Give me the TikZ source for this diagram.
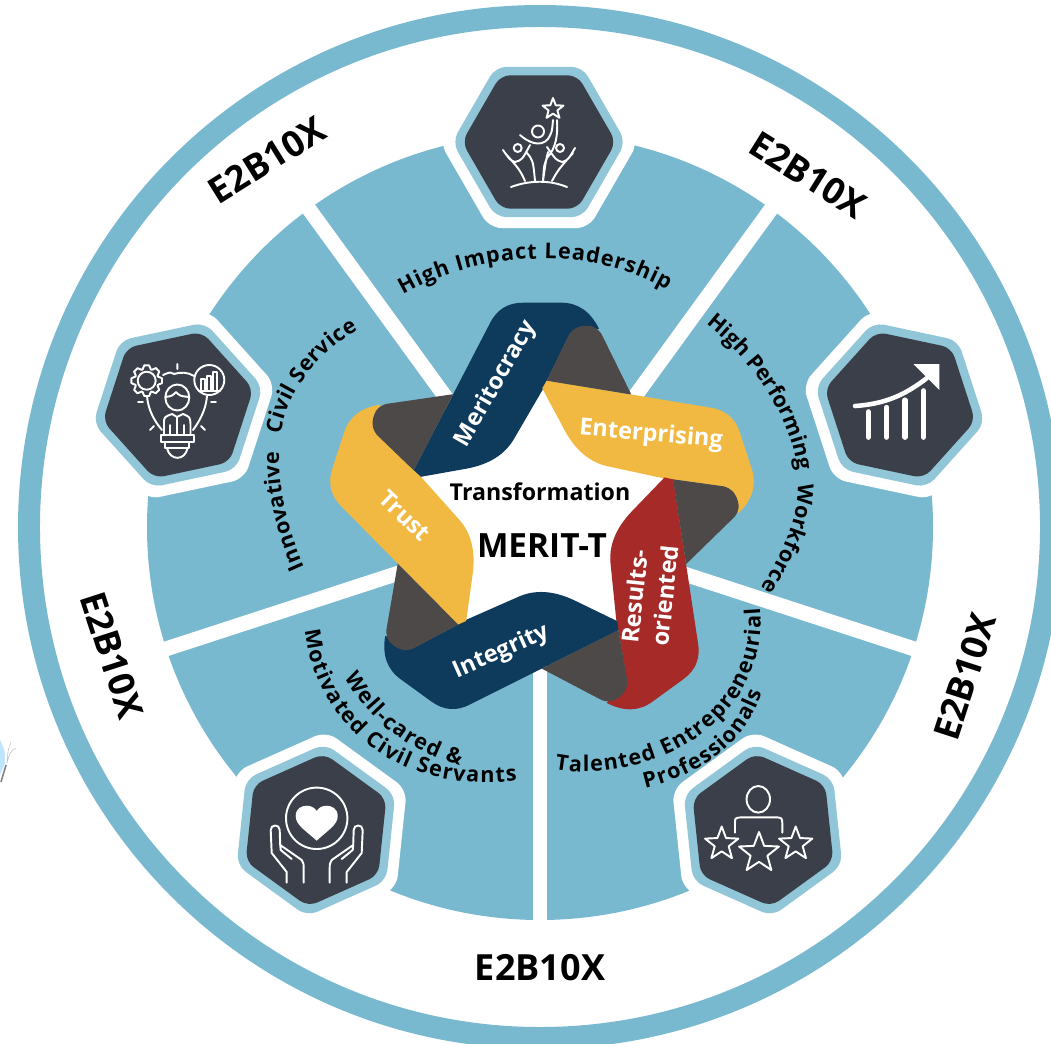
\documentclass[tikz,border=0pt]{standalone}
\usepackage{fontspec}
\setmainfont{Open Sans}
\usetikzlibrary{decorations.text}
\definecolor{ringblue}{HTML}{79B9CF}
\definecolor{hexlight}{HTML}{90C6D8}
\definecolor{hexdark}{HTML}{3A3F4A}
\definecolor{ribbonnavy}{HTML}{0E3A5C}
\definecolor{ribbongold}{HTML}{F1B941}
\definecolor{ribbonred}{HTML}{A52A28}
\definecolor{ribbongray}{HTML}{4D4948}
\tikzset{
   iconline/.style={draw=white,line width=1.1pt,line cap=round,line join=round},
   bartick/.style={draw=white,line width=2.9pt,line cap=round},
   divider/.style={draw=white,line width=8.5pt},
   ringlabel/.style={font=\bfseries\fontsize{20.5}{21}\selectfont},
   ribbonlabel/.style={text=white,font=\bfseries\fontsize{13.4}{17}\selectfont},
   curvetext/.style={decorate,decoration={text along path,text align=fit to path,
      text={|\bfseries\fontsize{12.3}{13}\selectfont|#1}}}
}
\newcommand{\hexa}[5]{\path[fill=#5,rounded corners=#4pt,shift={(#1,#2)},rotate=#3]
   (0:#4*14) -- (60:#4*14) -- (120:#4*14) -- (180:#4*14) -- (240:#4*14) -- (300:#4*14) -- cycle;}
\newcommand{\hexstack}[3]{\hexa{#1}{#2}{#3}{7.1}{white}\hexa{#1}{#2}{#3}{6.2}{hexlight}\hexa{#1}{#2}{#3}{5.5}{hexdark}}
\newcommand{\iconstar}[3]{\draw[iconline,shift={(#1,#2)}]
   (-90:#3) -- (-54:#3*.42) -- (-18:#3) -- (18:#3*.42) -- (54:#3) -- (90:#3*.42)
   -- (126:#3) -- (162:#3*.42) -- (198:#3) -- (234:#3*.42) -- cycle;}
\begin{document}
\begin{tikzpicture}[x=0.02cm,y=-0.02cm]
   \useasboundingbox (0,0) rectangle (1051,1044);
   \clip (0,0) rectangle (1051,1044);
   \fill[white] (0,0) rectangle (1051,1044);
   \draw[ringblue,line width=12.5pt] (540,527) circle (511);
   \fill[ringblue] (540,527) circle (393);
   \draw[divider] (540,527) -- (540,925);
   \draw[divider] (540,527) -- (945,659);
   \draw[divider] (540,527) -- (135,659);
   \draw[divider] (540,527) -- (290,183);
   \draw[divider] (540,527) -- (790,183);
   \hexstack{539}{142}{0}
   \hexstack{178}{405}{72}
   \hexstack{900}{405}{-72}
   \hexstack{316}{830}{144}
   \hexstack{763}{830}{-144}
   \fill[white,shift={(542,517)}] (0,-128) -- (122,-40) -- (75,104) -- (-75,104) -- (-122,-40) -- cycle;
   \foreach \ang/\col in {0/ribbonnavy,-72/ribbongold,-144/ribbonred,-216/ribbonnavy,-288/ribbongold}{
      \fill[\col,shift={(542,517)},rotate=\ang] (-128.3,-46.7) -- (-122.3,-40) -- (-75.7,-48.3)
         .. controls (-52.4,-52.6) and (-36.5,-62.8) .. (-27.3,-79.3) -- (0.3,-126.7) -- (4.7,-136.3) -- (27.7,-183)
         -- (57,-188.3) .. controls (48.3,-205.7) and (35.8,-214.3) .. (19.3,-214.3) -- (-19,-214.3)
         .. controls (-34.4,-214.3) and (-45.4,-207.4) .. (-52.3,-193.3) -- cycle;
   }
   \foreach \ang in {0,-72,-144,-216,-288}{
      \fill[ribbongray,shift={(542,517)},rotate=\ang] (4.7,-136.3) -- (27,-182.3)
         .. controls (31.9,-189.7) and (39.3,-192.4) .. (49.3,-190.7) .. controls (53.1,-189.8) and (56.4,-187.3) .. (59.3,-183.3)
         -- (89.3,-122.5) -- cycle;
   }
   \node[ribbonlabel,rotate=60] (merit) at (496,384) {Meritocracy};
   \node[ribbonlabel,rotate=-5] (enterp) at (651,435) {Enterprising};
   \node[ribbonlabel,rotate=-44] (trust) at (405,516) {Trust};
   \node[ribbonlabel,rotate=24] (integ) at (501,652) {Integrity};
   \node[ribbonlabel,rotate=84,align=left] (result) at (650,594) {Results-\\oriented};
   \node[font=\bfseries\fontsize{13.2}{14}\selectfont] (transf) at (540,492) {Transformation};
   \node[font=\bfseries\fontsize{19}{20}\selectfont] (meritt) at (542,546) {MERIT-T};
   \node[ringlabel,rotate=32] (ringa) at (267,160) {E2B10X};
   \node[ringlabel,rotate=-32] (ringb) at (808,175) {E2B10X};
   \node[ringlabel,rotate=72] (ringc) at (965,677) {E2B10X};
   \node[ringlabel,rotate=-72] (ringd) at (112,655) {E2B10X};
   \node[ringlabel] (ringe) at (540,968) {E2B10X};
   \path[curvetext={High Impact Leadership}] (403,295) .. controls (480,250) and (590,245) .. (667,290);
   \path[curvetext={High Performing{\kern4pt} Workforce}] (706,324) .. controls (770,375) and (800,440) .. (798,487)
      .. controls (797,520) and (785,550) .. (762,587);
   \path[curvetext={Innovative{\kern6pt} Civil Service}] (305,567) .. controls (288,530) and (278,490) .. (279,450)
      .. controls (280,410) and (305,360) .. (358,330);
   \path[curvetext={Well-cared {\&}}] (345,677) .. controls (365,715) and (400,748) .. (460,766);
   \path[curvetext={Motivated Civil Servants}] (305,630) .. controls (315,715) and (385,795) .. (517,781);
   \path[curvetext={Talented Entrepreneurial}] (555,769) .. controls (640,785) and (770,730) .. (760,608);
   \path[curvetext={Professionals}] (645,788) .. controls (700,775) and (745,745) .. (762,692);
   \iconstar{553}{109}{11}
   \draw[iconline] (538,131.5) circle (6);
   \draw[iconline] (520,135) .. controls (528,142) and (540,148) .. (548,139) .. controls (552,132) .. (553,120)
      (557,120) .. controls (558,135) and (556,148) .. (547,158) .. controls (544,165) .. (543,181)
      (526,152) .. controls (533,160) .. (535,181) (548,152) .. controls (546,160) .. (543,181);
   \draw[iconline] (517.7,148) circle (4) (560,148) circle (4);
   \draw[iconline] (503,150) .. controls (510,160) .. (515,162) .. controls (522,160) .. (530,145)
      (505,153) .. controls (520,170) .. (525,181)
      (575,148) .. controls (568,160) .. (562,162) .. controls (556,160) .. (547,147)
      (573,153) .. controls (558,170) .. (552,181);
   \draw[iconline] (511,187) .. controls (530,180) and (550,180) .. (567,187);
   \foreach \a in {0,45,...,315}{
      \draw[iconline,shift={(146.7,380.7)}] (\a-9:15.5) -- (\a+9:15.5) -- (\a+20:12) -- (\a+25:12) -- (\a+36:15.5);
   }
   \draw[iconline] (146.7,380.7) circle (9);
   \draw[iconline] (209.3,380) circle (15);
   \draw[iconline] (199,391) -- (220,391) (201,391) -- (201,379) -- (205,379) -- (205,391)
      (207,391) -- (207,376) -- (211,376) -- (211,391) (213,391) -- (213,372) -- (217,372) -- (217,391);
   \draw[iconline] (163,375) .. controls (170,372) .. (174,374) (174,374) .. controls (180,372) and (188,372) .. (194,376);
   \draw[iconline] (147,396) .. controls (148,410) and (155,422) .. (162,430)
      (207,396) .. controls (206,410) and (199,422) .. (193,430);
   \draw[iconline] (160.7,435) rectangle (194.3,441.7) (165,441.7) rectangle (189.3,448.3);
   \draw[iconline] (167,448.3) .. controls (170,461) and (185,461) .. (187.5,448.3);
   \draw[iconline] (177.3,397.5) ellipse (12 and 13);
   \draw[iconline] (165.5,397) .. controls (172,396) .. (176,392) .. controls (180,396) .. (189,397);
   \draw[iconline] (164,435) -- (164,424) .. controls (164,417) .. (172,414) -- (177,417) -- (183,414)
      .. controls (190,417) .. (190.5,424) -- (190.5,435) (177,417) -- (177,435) (170,425) -- (170,435) (184,425) -- (184,435);
   \draw[iconline] (177.3,364) -- (177.3,369) (138,402) -- (143,402) (211,402) -- (216,402)
      (150,430) -- (154,426) (201,426) -- (205,430);
   \foreach \xb/\yb in {868.3/411.7,886.7/407.3,905/400,923.3/390.7}{
      \draw[bartick] (\xb,437.3) -- (\xb,\yb);
   }
   \draw[white,line width=2.6pt,line cap=round] (855,406) .. controls (885,404) and (905,395) .. (927,378);
   \fill[white] (913.3,364) -- (939.3,364) -- (939.3,390) -- cycle;
   \draw[iconline] (316.7,818.3) circle (30.7);
   \fill[white] (316.7,840.7) .. controls (305,830) and (295.7,825) .. (295.7,816)
      .. controls (295.7,808) and (302,805.7) .. (307,805.7) .. controls (311,805.7) and (315,808) .. (316.7,811)
      .. controls (318.4,808) and (322,805.7) .. (326.4,805.7) .. controls (331,805.7) and (337.7,808) .. (337.7,816)
      .. controls (337.7,825) and (328,830) .. (316.7,840.7) -- cycle;
   \foreach \side in {1,-1}{
      \draw[iconline,shift={(316.7,0)},xscale=\side] (-30,882.7) -- (-30,872) -- (-45,853) -- (-46,830)
         .. controls (-46,824) and (-37,824) .. (-37,830) -- (-36.5,845) -- (-15,860)
         .. controls (-13,864) .. (-13,868) -- (-13,882.7) (-36.5,845) -- (-36,850) -- (-25,859);
   }
   \draw[iconline] (758.3,799.3) ellipse (11.7 and 13.3);
   \draw[iconline] (735,832.7) -- (735,823) .. controls (735,818) .. (741,817.3) -- (776.7,817.3)
      .. controls (782,818) .. (782.3,823) -- (782.3,832.7);
   \iconstar{721.7}{844}{17.5}
   \iconstar{759}{853}{21}
   \iconstar{795.7}{844}{17.5}
   \fill[blue!40!cyan!25!white] (0,740) .. controls (5,750) .. (5,763) -- (0,775) -- cycle;
   \draw[gray,line width=.9pt] (6,765) -- (1,782);
   \draw[gray!50,line width=.3pt] (16,748) .. controls (10,752) .. (7,763) (11,742) .. controls (8,750) .. (7,763);
\end{tikzpicture}
\end{document}
